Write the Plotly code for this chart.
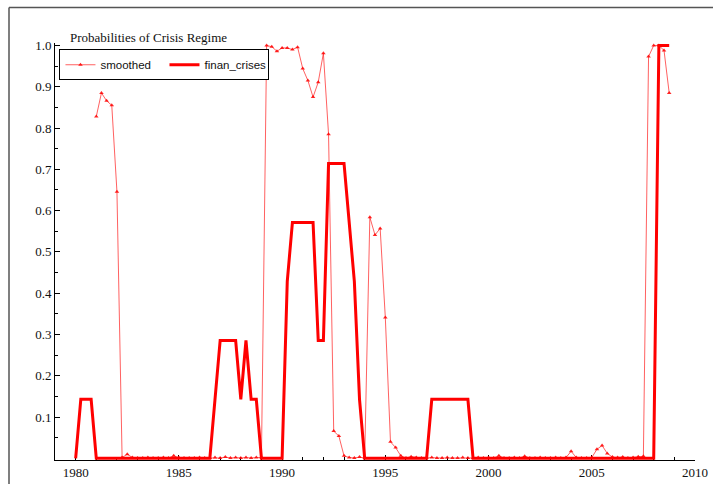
import plotly.graph_objects as go

# Quarterly dates
smoothed_start = 1981.0
finan_start = 1980.0

# Smoothed probability of the crisis regime, quarterly from 1981Q1 to 2008Q4
smoothed = [
    0.828, 0.885, 0.866, 0.855,   # 1981
    0.646, 0.002, 0.010, 0.002,   # 1982
    0.001, 0.001, 0.002, 0.001,   # 1983
    0.001, 0.002, 0.001, 0.006,   # 1984
    0.002, 0.001, 0.001, 0.001,   # 1985
    0.002, 0.001, 0.001, 0.002,   # 1986
    0.001, 0.003, 0.001, 0.002,   # 1987
    0.001, 0.002, 0.001, 0.002,   # 1988
    0.002, 1.000, 0.997, 0.986,   # 1989
    0.994, 0.994, 0.990, 0.996,   # 1990
    0.944, 0.915, 0.875, 0.911,   # 1991
    0.981, 0.785, 0.066, 0.054,   # 1992
    0.006, 0.002, 0.001, 0.003,   # 1993
    0.001, 0.584, 0.541, 0.557,   # 1994
    0.341, 0.040, 0.026, 0.006,   # 1995
    0.001, 0.004, 0.002, 0.001,   # 1996
    0.001, 0.002, 0.001, 0.001,   # 1997
    0.002, 0.001, 0.001, 0.002,   # 1998
    0.001, 0.001, 0.002, 0.001,   # 1999
    0.002, 0.001, 0.006, 0.001,   # 2000
    0.001, 0.002, 0.001, 0.005,   # 2001
    0.001, 0.001, 0.002, 0.001,   # 2002
    0.001, 0.002, 0.001, 0.002,   # 2003
    0.017, 0.002, 0.001, 0.001,   # 2004
    0.002, 0.022, 0.031, 0.012,   # 2005
    0.003, 0.002, 0.003, 0.001,   # 2006
    0.002, 0.004, 0.005, 0.973,   # 2007
    1.000, 1.000, 0.988, 0.885,   # 2008
]

# Share of countries in financial crisis, quarterly from 1980Q1 to 2008Q4
finan_crises = [
    0.0, 0.1429, 0.1429, 0.1429,      # 1980
    0.0, 0.0, 0.0, 0.0,               # 1981
    0.0, 0.0, 0.0, 0.0,               # 1982
    0.0, 0.0, 0.0, 0.0,               # 1983
    0.0, 0.0, 0.0, 0.0,               # 1984
    0.0, 0.0, 0.0, 0.0,               # 1985
    0.0, 0.0, 0.0, 0.1429,            # 1986
    0.2857, 0.2857, 0.2857, 0.2857,   # 1987
    0.1429, 0.2857, 0.1429, 0.1429,   # 1988
    0.0, 0.0, 0.0, 0.0,               # 1989
    0.0, 0.4286, 0.5714, 0.5714,      # 1990
    0.5714, 0.5714, 0.5714, 0.2857,   # 1991
    0.2857, 0.7143, 0.7143, 0.7143,   # 1992
    0.7143, 0.5714, 0.4286, 0.1429,   # 1993
    0.0, 0.0, 0.0, 0.0,               # 1994
    0.0, 0.0, 0.0, 0.0,               # 1995
    0.0, 0.0, 0.0, 0.0,               # 1996
    0.0, 0.1429, 0.1429, 0.1429,      # 1997
    0.1429, 0.1429, 0.1429, 0.1429,   # 1998
    0.1429, 0.0, 0.0, 0.0,            # 1999
    0.0, 0.0, 0.0, 0.0,               # 2000
    0.0, 0.0, 0.0, 0.0,               # 2001
    0.0, 0.0, 0.0, 0.0,               # 2002
    0.0, 0.0, 0.0, 0.0,               # 2003
    0.0, 0.0, 0.0, 0.0,               # 2004
    0.0, 0.0, 0.0, 0.0,               # 2005
    0.0, 0.0, 0.0, 0.0,               # 2006
    0.0, 0.0, 0.0, 0.0,               # 2007
    0.0, 1.0, 1.0, 1.0,               # 2008
]

x_ticks = [1980, 1985, 1990, 1995, 2000, 2005, 2010]
y_ticks = [0.1, 0.2, 0.3, 0.4, 0.5, 0.6, 0.7, 0.8, 0.9, 1.0]
y_tick_text = ["0.1", "0.2", "0.3", "0.4", "0.5", "0.6", "0.7", "0.8", "0.9", "1.0"]
y_minor_ticks = [0.05, 0.15, 0.25, 0.35, 0.45, 0.55, 0.65, 0.75, 0.85, 0.95]

smoothed_dates = [smoothed_start + 0.25 * i for i in range(len(smoothed))]
finan_dates = [finan_start + 0.25 * i for i in range(len(finan_crises))]

SERIF = "Liberation Serif, Times New Roman, serif"
SANS = "Liberation Sans, Arial, sans-serif"

# plot area in pixels
PLOT_W = 640
PLOT_H = 417.5

fig = go.Figure()
fig.add_trace(go.Scatter(
    x=smoothed_dates, y=smoothed, name="smoothed",
    mode="lines+markers",
    line=dict(color="rgba(255,30,30,0.7)", width=1),
    marker=dict(symbol="triangle-up", size=4, color="rgba(255,0,0,0.85)"),
))
fig.add_trace(go.Scatter(
    x=finan_dates, y=finan_crises, name="finan_crises",
    mode="lines",
    line=dict(color="#ff0000", width=3),
))

frame_y = (460 - 7) / PLOT_H
frame_x = -46 / PLOT_W

fig.update_layout(
    width=713, height=484,
    margin=dict(l=55, r=18, t=42.5, b=24, autoexpand=False),
    paper_bgcolor="white", plot_bgcolor="white",
    font=dict(family=SERIF, size=13, color="#111111"),
    showlegend=True,
    legend=dict(
        orientation="h", x=0.007, y=0.985, xanchor="left", yanchor="top",
        bgcolor="white", bordercolor="#000000", borderwidth=1,
        font=dict(family=SANS, size=11.5, color="#111111"),
        itemwidth=30, tracegroupgap=0,
        entrywidth=59, entrywidthmode="pixels",
    ),
    annotations=[dict(
        text="Probabilities of Crisis Regime", xref="paper", yref="paper",
        x=0.02, y=(460 - 37) / PLOT_H, xanchor="left", yanchor="middle", showarrow=False,
        font=dict(family=SERIF, size=13, color="#111111"),
    )],
    shapes=[
        dict(type="line", xref="paper", yref="paper",
             x0=frame_x, x1=1.2, y0=frame_y, y1=frame_y,
             line=dict(color="#555555", width=1.5)),
        dict(type="line", xref="paper", yref="paper",
             x0=frame_x, x1=frame_x, y0=-0.2, y1=frame_y,
             line=dict(color="#555555", width=1.5)),
    ],
)

fig.update_xaxes(
    range=[1979, 2010], showgrid=False, zeroline=False, automargin=False,
    showline=True, linecolor="#000000", linewidth=1, layer="below traces",
    tickmode="array", tickvals=x_ticks, ticks="inside", ticklen=5,
    tickcolor="#000000",
    minor=dict(dtick=1, tick0=1980, ticks="inside", ticklen=3, tickcolor="#000000"),
    tickfont=dict(family=SERIF, size=13, color="#111111"),
)
fig.update_yaxes(
    range=[-0.004, 1.006], showgrid=False, zeroline=False, automargin=False,
    showline=True, linecolor="#000000", linewidth=1, layer="below traces",
    tickmode="array", tickvals=y_ticks, ticktext=y_tick_text,
    ticks="inside", ticklen=5, tickcolor="#000000",
    minor=dict(tickmode="array", tickvals=y_minor_ticks,
               ticks="inside", ticklen=3, tickcolor="#000000"),
    tickfont=dict(family=SERIF, size=13, color="#111111"),
)

fig.write_html("out.html")
